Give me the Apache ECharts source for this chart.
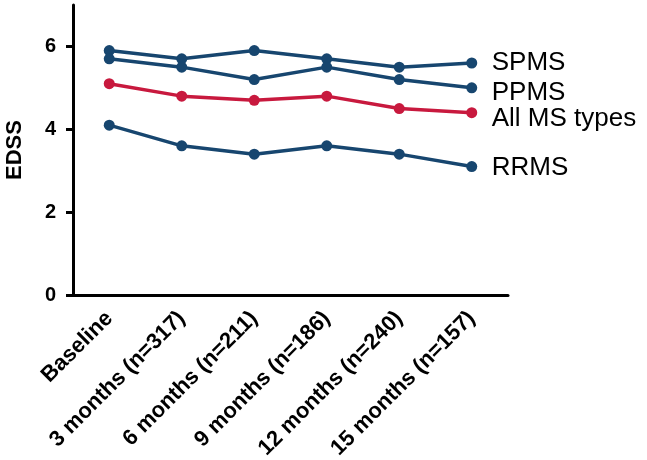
<!DOCTYPE html>
<html>
<head>
<meta charset="utf-8">
<script src="https://cdn.jsdelivr.net/npm/echarts@6/dist/echarts.min.js"></script>
<style>
  html, body { margin: 0; padding: 0; background: #fff; }
  #chart { width: 647px; height: 460px; }
</style>
</head>
<body>
<div id="chart"></div>
<script>
// 时间点
const categories = ['Baseline', '3 months (n=317)', '6 months (n=211)', '9 months (n=186)', '12 months (n=240)', '15 months (n=157)']
const spms = [5.9, 5.7, 5.9, 5.7, 5.5, 5.6]
const ppms = [5.7, 5.5, 5.2, 5.5, 5.2, 5.0]
const allTypes = [5.1, 4.8, 4.7, 4.8, 4.5, 4.4]
const rrms = [4.1, 3.6, 3.4, 3.6, 3.4, 3.1]
const yTicks = [0, 2, 4, 6]

const navy = '#17466f'
const red = '#c8193e'
const font = 'Liberation Sans, Arial, sans-serif'

const makeSeries = (name, data, color, dy) => ({
  name,
  type: 'line',
  data,
  symbol: 'circle',
  symbolSize: 11,
  lineStyle: { width: 3.5, color },
  itemStyle: { color },
  emphasis: { disabled: true },
  endLabel: {
    show: true,
    formatter: name,
    distance: 20,
    offset: [0, dy],
    color: '#000',
    fontFamily: font,
    fontSize: 26,
  },
})

const chart = echarts.init(document.getElementById('chart'))
chart.setOption({
  animation: false,
  backgroundColor: '#fff',
  grid: { left: 73, right: 139, top: 5, bottom: 165, containLabel: false, outerBoundsMode: 'none' },
  xAxis: {
    type: 'category',
    data: categories,
    boundaryGap: true,
    axisLine: { lineStyle: { color: '#000', width: 3 } },
    axisTick: { alignWithLabel: true, length: 10, lineStyle: { color: '#000', width: 3 } },
    axisLabel: {
      rotate: 45,
      margin: 20,
      color: '#000',
      fontWeight: 'bold',
      fontSize: 22,
      fontFamily: font,
    },
    splitLine: { show: false },
  },
  yAxis: {
    type: 'value',
    min: 0,
    max: 7,
    interval: 1,
    name: 'EDSS',
    nameLocation: 'middle',
    nameRotate: 90,
    nameGap: 47,
    nameTextStyle: {
      color: '#000',
      fontWeight: 'bold',
      fontSize: 22,
      fontFamily: font,
    },
    axisLine: { show: true, lineStyle: { color: '#000', width: 3 } },
    axisTick: {
      show: true,
      length: 7,
      lineStyle: { color: '#000', width: 3 },
      // 只显示偶数刻度
      customValues: yTicks,
    },
    axisLabel: {
      color: '#000',
      fontWeight: 'bold',
      fontSize: 20,
      margin: 17,
      fontFamily: font,
      customValues: yTicks,
    },
    splitLine: { show: false },
  },
  series: [
    makeSeries('SPMS', spms, navy, 0),
    makeSeries('PPMS', ppms, navy, 5),
    makeSeries('All MS types', allTypes, red, 6),
    makeSeries('RRMS', rrms, navy, 1),
  ],
})
</script>
</body>
</html>
